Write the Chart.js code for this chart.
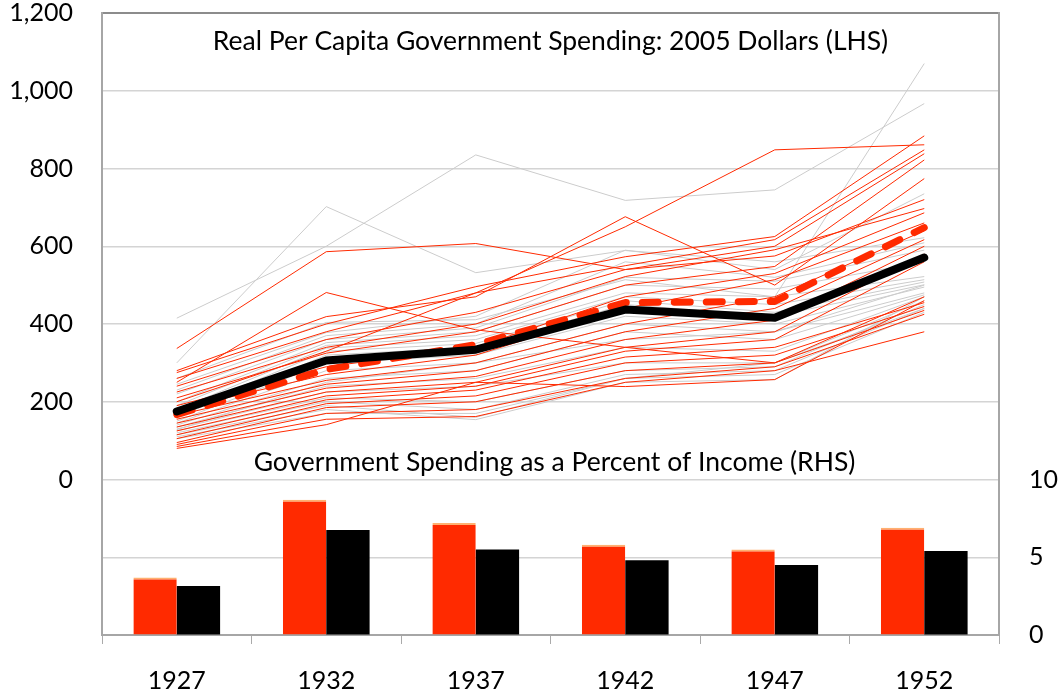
<!DOCTYPE html>
<html>
<head>
<meta charset="utf-8">
<script src="https://cdn.jsdelivr.net/npm/chart.js@4/dist/chart.umd.min.js"></script>
<style>
  html, body { margin: 0; padding: 0; background: #fff; }
  #wrap { width: 1061px; height: 698px; }
</style>
</head>
<body>
<div id="wrap"><canvas id="chart"></canvas></div>
<script>
// years on the x axis
const years = ['1927', '1932', '1937', '1942', '1947', '1952'];

// individual series, real per capita spending (left axis)
const grayStates = [
    [415, 600, 835, 718, 745, 967],
    [300, 702, 532, 589, 560, 622],
    [260, 404, 411, 514, 470, 1070],
    [245, 378, 420, 590, 540, 735],
    [230, 370, 400, 560, 520, 609],
    [220, 360, 390, 520, 510, 590],
    [200, 352, 380, 500, 490, 560],
    [190, 345, 370, 480, 470, 522],
    [180, 338, 360, 470, 450, 514],
    [170, 330, 350, 460, 430, 508],
    [160, 320, 340, 450, 420, 501],
    [150, 300, 320, 420, 400, 495],
    [145, 280, 300, 400, 380, 480],
    [140, 260, 280, 380, 360, 475],
    [135, 240, 260, 340, 330, 470],
    [130, 225, 240, 300, 300, 460],
    [125, 210, 200, 280, 290, 450],
    [120, 200, 180, 270, 280, 440],
    [115, 190, 160, 260, 270, 430],
    [110, 180, 154, 250, 257, 470],
    [105, 170, 170, 260, 300, 440],
    [128, 250, 300, 360, 380, 500]
];
const redStates = [
    [337, 586, 607, 540, 575, 720],
    [250, 481, 385, 340, 300, 470],
    [280, 419, 470, 676, 500, 774],
    [200, 330, 480, 650, 848, 861],
    [275, 400, 496, 573, 625, 884],
    [260, 380, 480, 550, 617, 848],
    [240, 360, 430, 540, 600, 838],
    [225, 340, 400, 522, 591, 697],
    [210, 325, 380, 500, 548, 822],
    [190, 290, 340, 470, 530, 686],
    [180, 270, 320, 440, 514, 660],
    [165, 255, 300, 400, 470, 640],
    [155, 245, 280, 380, 440, 617],
    [145, 235, 265, 360, 410, 600],
    [135, 225, 250, 340, 380, 580],
    [125, 215, 240, 330, 360, 560],
    [115, 205, 230, 315, 340, 455],
    [105, 195, 215, 300, 320, 445],
    [95, 185, 200, 280, 300, 435],
    [90, 170, 180, 260, 290, 425],
    [85, 155, 162, 250, 280, 380],
    [80, 141, 250, 239, 257, 460]
];

// averages
const overallAvg = [175, 306, 334, 437, 416, 571];
const redAvg = [167, 283, 347, 455, 458, 648];

// percent of income (right axis)
const redShare = [3.7, 8.7, 7.2, 5.8, 5.5, 6.9];
const overallShare = [3.15, 6.75, 5.5, 4.8, 4.5, 5.4];

const topTitle = 'Real Per Capita Government Spending: 2005 Dollars (LHS)';
const bottomTitle = 'Government Spending as a Percent of Income (RHS)';

const FONT = 'Lato, "Open Sans", sans-serif';
const RED = '#ff2a00';

const datasets = [];

datasets.push({
    type: 'line', label: 'Overall average', data: overallAvg, yAxisID: 'y',
    borderColor: '#000', borderWidth: 8, borderCapStyle: 'round', borderJoinStyle: 'round',
    pointRadius: 0, tension: 0, order: 0
});
datasets.push({
    type: 'line', label: 'Red average', data: redAvg, yAxisID: 'y',
    borderColor: RED, borderWidth: 7, borderDash: [16, 16], borderCapStyle: 'round',
    borderJoinStyle: 'round', pointRadius: 0, tension: 0, order: 1
});
redStates.forEach(function (d, i) {
    datasets.push({
        type: 'line', label: 'red ' + i, data: d, yAxisID: 'y',
        borderColor: RED, borderWidth: 1, pointRadius: 0, tension: 0, order: 2
    });
});
grayStates.forEach(function (d, i) {
    datasets.push({
        type: 'line', label: 'gray ' + i, data: d, yAxisID: 'y',
        borderColor: '#cccccc', borderWidth: 1, pointRadius: 0, tension: 0, order: 3
    });
});
datasets.push({
    type: 'bar', label: 'Red share', data: redShare, yAxisID: 'y2',
    backgroundColor: RED, borderColor: '#ffb070', borderWidth: { top: 2, left: 0, right: 0, bottom: 0 },
    borderSkipped: 'start', categoryPercentage: 0.58, barPercentage: 1.0, order: 4
});
datasets.push({
    type: 'bar', label: 'Overall share', data: overallShare, yAxisID: 'y2',
    backgroundColor: '#000', borderWidth: 0,
    categoryPercentage: 0.58, barPercentage: 1.0, order: 4
});

// the two panel titles sit inside the plot area
const panelTitles = {
    id: 'panelTitles',
    afterDraw(chart) {
        const ctx = chart.ctx;
        const area = chart.chartArea;
        const cx = (area.left + area.right) / 2;
        ctx.save();
        ctx.fillStyle = '#000';
        ctx.textAlign = 'center';
        ctx.textBaseline = 'middle';
        ctx.font = '26.5px ' + FONT;
        ctx.fillText(topTitle, cx, area.top + 28);
        ctx.fillText(bottomTitle, cx + 4, chart.scales.y.getPixelForValue(0) - 17);
        ctx.restore();
    }
};

function pinY(width) {
    return function (s) {
        s.width = width;
        s.paddingTop = 0;
        s.paddingBottom = 0;
    };
}

new Chart(document.getElementById('chart'), {
    type: 'bar',
    data: { labels: years, datasets: datasets },
    options: {
        responsive: true,
        maintainAspectRatio: false,
        animation: false,
        layout: { padding: { top: 13, left: 0, right: 0, bottom: 0 } },
        plugins: { legend: { display: false }, tooltip: { enabled: false } },
        scales: {
            x: {
                offset: true,
                afterFit: function (s) { s.height = 63; s.paddingLeft = 0; s.paddingRight = 0; },
                grid: { offset: true, drawOnChartArea: false, drawTicks: true, tickLength: 9, color: '#aaaaaa' },
                border: { display: true, color: '#a6a6a6', width: 2 },
                ticks: { color: '#000', font: { family: FONT, size: 25 }, padding: 22, maxRotation: 0 }
            },
            y: {
                position: 'left',
                min: -400, max: 1200,
                afterFit: pinY(102),
                grid: {
                    drawTicks: false,
                    color: function (c) { return c.tick && c.tick.value === 1200 ? '#8c8c8c' : '#d4d4d4'; },
                    lineWidth: function (c) { return c.tick && c.tick.value === 1200 ? 2 : 1.5; }
                },
                border: { display: true, color: '#a6a6a6', width: 2 },
                ticks: {
                    stepSize: 200, padding: 29, color: '#000',
                    font: { family: FONT, size: 25 },
                    callback: function (v) { return v < 0 ? '' : v.toLocaleString('en-US'); }
                }
            },
            y2: {
                position: 'right',
                min: 0, max: 40,
                afterFit: pinY(62),
                grid: { drawOnChartArea: false, drawTicks: false },
                border: { display: true, color: '#a6a6a6', width: 2 },
                ticks: {
                    stepSize: 5, padding: 30, color: '#000',
                    font: { family: FONT, size: 25 },
                    callback: function (v) { return v > 10 ? '' : String(v); }
                }
            }
        }
    },
    plugins: [panelTitles]
});
</script>
</body>
</html>
